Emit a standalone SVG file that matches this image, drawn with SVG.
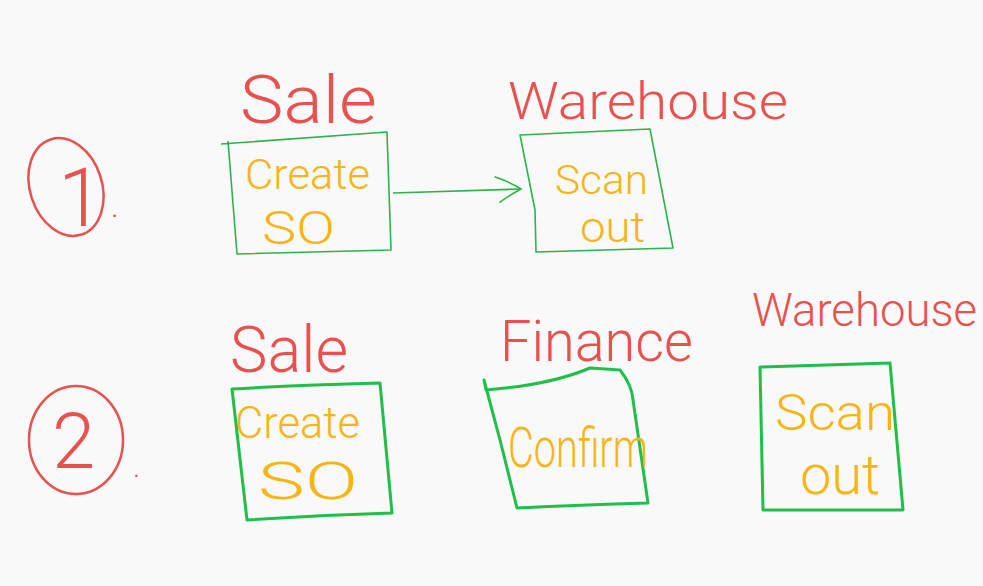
<svg xmlns="http://www.w3.org/2000/svg" width="983" height="586" viewBox="0 0 983 586">
<style>
.bg{fill:#f9f9f9}
.lbl{fill:#e9514f;font-family:Roboto,"Open Sans","Liberation Sans",sans-serif;font-weight:300}
.txt{fill:#f6b514;font-family:Roboto,"Open Sans","Liberation Sans",sans-serif;font-weight:300}
.ring{fill:none;stroke:#e9514f;stroke-width:2.5}
.box1{fill:none;stroke:#2db34c;stroke-width:1.6;stroke-linejoin:round}
.box2{fill:none;stroke:#1fbf4a;stroke-width:3;stroke-linejoin:round}
.conn{fill:none;stroke:#2db34c;stroke-width:1.6}
</style>
<defs>
<marker id="open" viewBox="0 0 30 30" refX="28" refY="15" markerWidth="30" markerHeight="30" markerUnits="userSpaceOnUse" orient="auto">
<path d="M2,2 Q18,8 28,15 Q14,22 6,28" fill="none" stroke="#2db34c" stroke-width="1.6"/>
</marker>
</defs>
<rect class="bg" x="0" y="0" width="983" height="586"/>

<g id="step1">
<ellipse class="ring" cx="66" cy="187" rx="36" ry="50" transform="rotate(-18 66 187)"/>
<text class="lbl" x="58" y="226" font-size="82">1</text>
<text class="lbl" x="111" y="217" font-size="32">.</text>
</g>

<g id="sale1">
<text class="lbl" x="240" y="123" font-size="66" textLength="137" lengthAdjust="spacingAndGlyphs">Sale</text>
<path class="box1" d="M221,144 L387,132 L391,250 L237,254 L228,141"/>
<text class="txt" x="245" y="189" font-size="42" textLength="125" lengthAdjust="spacingAndGlyphs">Create</text>
<text class="txt" x="262" y="244" font-size="46" textLength="73" lengthAdjust="spacingAndGlyphs">SO</text>
</g>

<g id="warehouse1">
<text class="lbl" x="508" y="119" font-size="52" textLength="280" lengthAdjust="spacingAndGlyphs">Warehouse</text>
<path class="box1" d="M520,135 L650,129 L673,248 L536,252 L535,210 Z"/>
<text class="txt" x="555" y="194" font-size="40" textLength="93" lengthAdjust="spacingAndGlyphs">Scan</text>
<text class="txt" x="580" y="242" font-size="42" textLength="65" lengthAdjust="spacingAndGlyphs">out</text>
</g>

<g id="connectors">
<path class="conn" d="M393,193 L521,189" marker-end="url(#open)"/>
</g>

<g id="step2">
<ellipse class="ring" cx="76" cy="440" rx="47" ry="54"/>
<text class="lbl" x="52" y="468" font-size="78">2</text>
<text class="lbl" x="133" y="477" font-size="30">.</text>
</g>

<g id="sale2">
<text class="lbl" x="230" y="372" font-size="64" textLength="118" lengthAdjust="spacingAndGlyphs">Sale</text>
<path class="box2" d="M232,389 Q300,385 380,383 L392,513 Q320,515 247,520 Z"/>
<text class="txt" x="235" y="438" font-size="44" textLength="125" lengthAdjust="spacingAndGlyphs">Create</text>
<text class="txt" x="258" y="499" font-size="52" textLength="100" lengthAdjust="spacingAndGlyphs">SO</text>
</g>

<g id="finance">
<text class="lbl" x="500" y="361" font-size="58" textLength="193" lengthAdjust="spacingAndGlyphs">Finance</text>
<path class="box2" d="M484,380 L486,390 Q550,385 590,368 L620,370 Q632,385 633,400 L648,503 Q580,505 517,508 L500,440 Z"/>
<text class="txt" x="508" y="467" font-size="56" textLength="140" lengthAdjust="spacingAndGlyphs">Confirm</text>
</g>

<g id="warehouse2">
<text class="lbl" x="752" y="326" font-size="46" textLength="225" lengthAdjust="spacingAndGlyphs">Warehouse</text>
<path class="box2" d="M760,367 L890,363 L903,510 L763,510 Z"/>
<text class="txt" x="775" y="430" font-size="50" textLength="120" lengthAdjust="spacingAndGlyphs">Scan</text>
<text class="txt" x="800" y="494" font-size="56" textLength="80" lengthAdjust="spacingAndGlyphs">out</text>
</g>
</svg>
